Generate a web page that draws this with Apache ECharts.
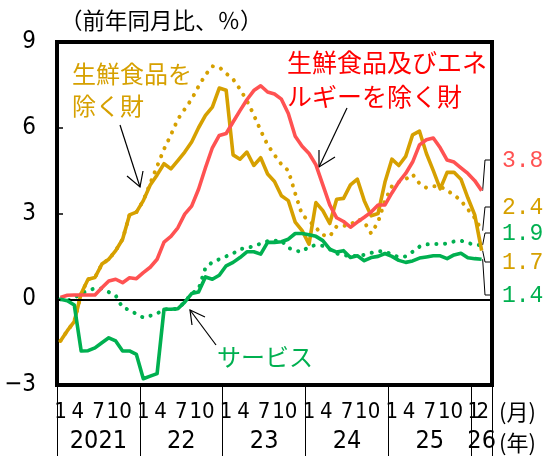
<!DOCTYPE html>
<html>
<head>
<meta charset="utf-8">
<script src="https://cdn.jsdelivr.net/npm/echarts@6/dist/echarts.min.js"></script>
<style>
  html, body { margin: 0; padding: 0; background: #fff; }
  #chart { width: 555px; height: 456px; }
</style>
</head>
<body>
<div id="chart"></div>
<script>
// Monthly year-on-year changes (%), Jan 2021 – Feb 2026
const startYear = 2021;
const yearLabels = ['2021', '22', '23', '24', '25', '26'];
const monthLabelSet = [1, 4, 7, 10];
const yTicks = [-3, 0, 3, 6, 9];

// 生鮮食品を除く財 (solid) and its dotted variant
const goods = [-1.46, -1.1, -0.78, 0.2, 0.7, 0.76, 1.23, 1.4, 1.7, 2.1, 2.95, 3.05,
  3.45, 4.0, 4.35, 4.74, 4.56, 4.85, 5.15, 5.5, 6.0, 6.43, 6.72, 7.39,
  7.31, 5.05, 4.9, 5.15, 4.68, 4.95, 4.38, 4.12, 3.62, 3.45, 2.7, 2.4,
  1.93, 3.38, 3.1, 2.65, 3.5, 3.53, 4.0, 4.2, 3.45, 2.92, 3.0, 4.1,
  4.9, 4.68, 5.0, 5.75, 5.88, 5.1, 4.5, 3.86, 4.44, 4.44, 4.2, 3.55,
  2.95, 1.7];
const goodsDot = [-1.46, -1.1, -0.78, 0.2, 0.7, 0.76, 1.23, 1.4, 1.7, 2.1, 2.95, 3.05,
  3.45, 4.05, 4.65, 5.25, 5.75, 6.3, 6.65, 7.0, 7.45, 7.85, 8.15, 8.12,
  7.9, 7.7, 7.35, 6.95, 6.45, 5.9, 5.4, 5.05, 4.72, 4.5, 3.7, 2.95,
  2.75, 2.5, 2.25, 2.2, 2.55, 2.57, 2.6, 2.8, 2.7, 2.3, 2.7, 3.45,
  3.95, 4.1, 4.2, 4.37, 4.05, 3.9, 3.95, 3.95, 3.8, 3.65, 3.45, 3.15,
  2.85, 2.4];

// 生鮮食品及びエネルギーを除く財
const coreGoods = [0.06, 0.14, 0.15, 0.15, 0.15, 0.15, 0.4, 0.64, 0.7, 0.58, 0.75, 0.72,
  0.93, 1.12, 1.4, 2.0, 2.2, 2.5, 2.98, 3.26, 3.85, 4.6, 5.3, 5.73,
  5.8, 6.2, 6.6, 6.98, 7.3, 7.47, 7.25, 7.18, 7.0, 6.5, 5.7, 5.35,
  5.1, 4.7, 4.0, 3.3, 2.85, 2.72, 2.52, 2.7, 2.87, 3.05, 3.3, 3.3,
  3.72, 4.1, 4.4, 4.8, 5.4, 5.58, 5.64, 5.3, 4.87, 4.8, 4.6, 4.4,
  4.15, 3.8];

// サービス (solid) and its dotted variant
const services = [0.0, -0.05, -0.2, -1.81, -1.8, -1.7, -1.52, -1.35, -1.46, -1.81, -1.81, -1.93,
  -2.78, -2.69, -2.6, -0.35, -0.35, -0.33, -0.1, 0.2, 0.25, 0.78, 0.7, 0.84,
  1.17, 1.29, 1.46, 1.66, 1.66, 1.58, 1.99, 1.99, 2.01, 2.1, 2.3, 2.3,
  2.26, 2.2, 2.05, 1.75, 1.65, 1.7, 1.46, 1.52, 1.35, 1.46, 1.5, 1.6,
  1.5, 1.36, 1.29, 1.34, 1.44, 1.48, 1.52, 1.52, 1.42, 1.55, 1.61, 1.45,
  1.42, 1.4];
const servicesDot = [0.0, -0.05, 0.05, 0.2, 0.3, 0.38, 0.38, 0.25, 0.13, -0.3, -0.37, -0.52,
  -0.64, -0.58, -0.5, -0.35, -0.35, -0.33, -0.1, 0.2, 0.35, 1.1, 1.3, 1.4,
  1.5, 1.6, 1.75, 1.8, 1.85, 1.95, 2.03, 2.05, 2.05, 1.8, 1.7, 1.66,
  1.85, 1.89, 1.87, 1.75, 1.6, 1.55, 1.5, 1.52, 1.55, 1.62, 1.68, 1.68,
  1.56, 1.47, 1.5, 1.66, 1.84, 1.92, 1.93, 1.93, 1.95, 2.02, 2.05, 1.97,
  1.9, 1.9];

const GOLD = '#D6A000';
const RED = '#FF5252';
const GREEN = '#00B050';
const NARROW = '"Liberation Sans Narrow", "DejaVu Sans Condensed", "Liberation Sans", sans-serif';
const MONO = '"Liberation Mono", "DejaVu Sans Mono", monospace';
const JP = '"Noto Sans CJK JP", "Noto Sans", sans-serif';

const N = goods.length;
const xMax = N + 1;                       // one spare month at the right edge
const toPoints = arr => arr.map((v, i) => [i + 0.5, v]);   // centre of each month band
const lastYear = startYear + Math.floor((N - 1) / 12);

// Month labels: January sits in its band centre, other months at the band start.
// The short final year packs its months tightly, so every other one goes on a
// second label row at the same height to keep them from hiding each other.
const monthPosA = [], monthPosB = [], monthText = {};
let packed = 0;
for (let i = 0; i < N; i++) {
  const m = (i % 12) + 1;
  const yr = startYear + Math.floor(i / 12);
  if (monthLabelSet.includes(m) || yr === lastYear) {
    let p = m === 1 ? i + 0.5 : i;
    let row = monthPosA;
    if (yr === lastYear) {
      p = i + 0.35 + 0.3 * packed;
      if (packed % 2 === 1) row = monthPosB;
      packed++;
    }
    row.push(p);
    monthText[p.toFixed(2)] = String(m);
  }
}
// Year labels centred in each year's span; separators at every January
const yearPos = [], yearText = {}, sepPos = [];
yearLabels.forEach((lab, k) => {
  const s = k * 12, e = Math.min(s + 12, xMax);
  const p = (s + e) / 2;
  yearPos.push(p);
  yearText[p.toFixed(2)] = lab;
  sepPos.push(s);
});
sepPos.push(xMax);

function line(name, data, color, z, dotted) {
  return {
    type: 'line', name, data: toPoints(data), symbol: 'none', z,
    silent: true, animation: false,
    lineStyle: dotted
      ? { color, width: 4, type: [0.1, 8.6], cap: 'round' }
      : { color, width: 3.6, join: 'round' }
  };
}

function labelAxis(values, textMap, margin, size) {
  return {
    type: 'value', min: 0, max: xMax, position: 'bottom',
    axisLine: { show: false, onZero: false },
    splitLine: { show: false },
    axisTick: { show: false },
    axisLabel: {
      customValues: values, margin, color: '#000', fontSize: size, fontFamily: NARROW,
      hideOverlap: false,
      formatter: v => textMap[Number(v).toFixed(2)] || ''
    }
  };
}

const chart = echarts.init(document.getElementById('chart'), null, { renderer: 'canvas' });

const series = [
  line('サービス（点線）', servicesDot, GREEN, 2, true),
  line('生鮮食品を除く財（点線）', goodsDot, GOLD, 2, true),
  line('生鮮食品を除く財', goods, GOLD, 3, false),
  line('生鮮食品及びエネルギーを除く財', coreGoods, RED, 4, false),
  line('サービス', services, GREEN, 5, false)
];
series[0].markLine = {
  silent: true, symbol: 'none', animation: false,
  label: { show: false },
  lineStyle: { color: '#000', width: 2, type: 'solid' },
  data: [{ yAxis: 0 }]
};

const monthAxis = labelAxis(monthPosA, monthText, 16, 22);
monthAxis.axisTick = { show: true, customValues: sepPos, length: 71, lineStyle: { color: '#000', width: 1 } };

chart.setOption({
  animation: false,
  backgroundColor: '#fff',
  grid: {
    left: 57, top: 42, width: 435, height: 343,
    show: true, borderColor: '#000', borderWidth: 4, backgroundColor: 'transparent'
  },
  xAxis: [
    monthAxis,
    labelAxis(monthPosB, monthText, 16, 22),
    labelAxis(yearPos, yearText, 44, 25)
  ],
  yAxis: {
    type: 'value', min: yTicks[0], max: yTicks[yTicks.length - 1], interval: 3,
    axisLine: { show: false },
    splitLine: { show: false },
    axisTick: { show: true, inside: true, length: 6, lineStyle: { color: '#000', width: 1.5 } },
    axisLabel: {
      margin: 21, color: '#000', fontSize: 24, fontFamily: NARROW,
      formatter: v => (v < 0 ? '\u2212' + Math.abs(v) : String(v))
    }
  },
  series
});

// Annotation text and arrows
const graphics = [];
function text(x, y, str, size, color, font) {
  graphics.push({
    type: 'text', x, y, silent: true,
    style: { text: str, fill: color, font: `${size}px ${font || JP}`, verticalAlign: 'middle', align: 'left' }
  });
}
function arrow(from, tip, armA, armB) {
  graphics.push({ type: 'polyline', silent: true, shape: { points: [from, tip] }, style: { stroke: '#000', lineWidth: 1.2, fill: null } });
  graphics.push({ type: 'polyline', silent: true, shape: { points: [armA, tip, armB] }, style: { stroke: '#000', lineWidth: 1.2, fill: null } });
}

text(60, 20, '（前年同月比、％）', 22.5, '#000');
text(72, 74, '生鮮食品を', 24, GOLD);
text(72, 106, '除く財', 24, GOLD);
text(287, 62, '生鮮食品及びエネ', 25, '#FF0000');
text(287, 96, 'ルギーを除く財', 25, '#FF0000');
text(217, 357, 'サービス', 24, GREEN);
text(499, 412, '(月)', 22, '#000');
text(499, 443, '(年)', 22, '#000');

arrow([120, 125], [140, 187], [127, 176], [143, 171]);
arrow([347, 108], [319, 167], [319, 150], [335, 157]);
arrow([216, 345], [190, 310], [192, 325], [205, 317]);

// End-of-series value labels with leader lines
const endLabels = [
  { data: coreGoods, color: RED, slot: 160 },
  { data: goodsDot, color: GOLD, slot: 207 },
  { data: servicesDot, color: GREEN, slot: 233 },
  { data: goods, color: GOLD, slot: 262 },
  { data: services, color: GREEN, slot: 295 }
];
endLabels.forEach(l => {
  const last = l.data[l.data.length - 1];
  const p = chart.convertToPixel({ xAxisIndex: 0, yAxisIndex: 0 }, [N - 0.5, last]);
  graphics.push({
    type: 'polyline', silent: true,
    shape: { points: [[p[0] + 1, p[1]], [485, l.slot], [491, l.slot]] },
    style: { stroke: '#000', lineWidth: 1, fill: null }
  });
  text(502, l.slot + 1, last.toFixed(1), 23, l.color, MONO);
});

chart.setOption({ graphic: graphics });
</script>
</body>
</html>
